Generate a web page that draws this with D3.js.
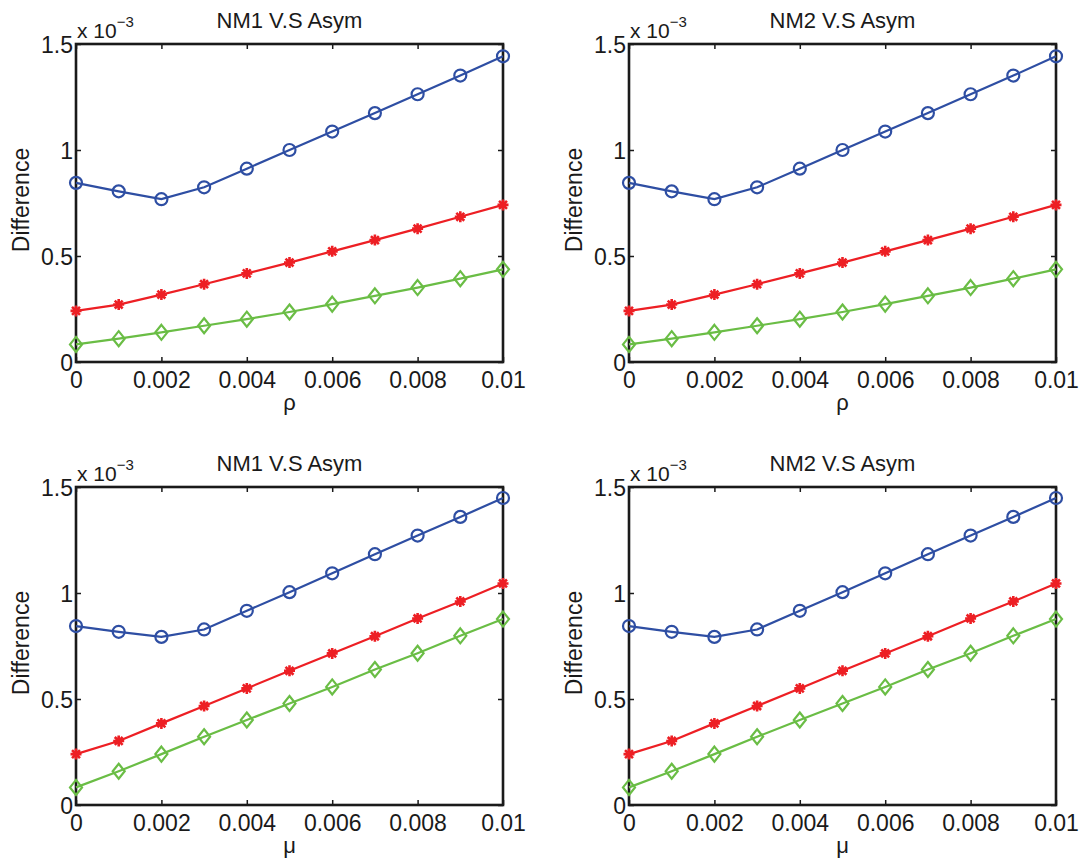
<!DOCTYPE html>
<html>
<head>
<meta charset="utf-8">
<script src="https://cdn.jsdelivr.net/npm/d3@7"></script>
<style>
  body { margin: 0; background: #fff; }
  text { font-family: "Liberation Sans", Arial, Helvetica, sans-serif; fill: #1a1a1a; }
</style>
</head>
<body>
<svg id="chart" width="1080" height="860"></svg>
<script>
// x values (parameter rho / mu)
var xValues = [0, 0.001, 0.002, 0.003, 0.004, 0.005, 0.006, 0.007, 0.008, 0.009, 0.01];
var xTicks = [0, 0.002, 0.004, 0.006, 0.008, 0.01];
var xTickLabels = ["0", "0.002", "0.004", "0.006", "0.008", "0.01"];
var yTicks = [0, 0.5, 1, 1.5];
var yTickLabels = ["0", "0.5", "1", "1.5"];

// values in units of 1e-3
var rhoBlue  = [0.845, 0.805, 0.768, 0.824, 0.912, 1.0, 1.087, 1.174, 1.263, 1.351, 1.442];
var rhoRed   = [0.241, 0.271, 0.318, 0.367, 0.418, 0.469, 0.522, 0.575, 0.629, 0.685, 0.741];
var rhoGreen = [0.083, 0.110, 0.140, 0.171, 0.202, 0.236, 0.273, 0.312, 0.351, 0.393, 0.437];

var muBlue  = [0.844, 0.817, 0.793, 0.828, 0.916, 1.004, 1.093, 1.183, 1.271, 1.359, 1.448];
var muRed   = [0.240, 0.302, 0.385, 0.467, 0.550, 0.633, 0.715, 0.796, 0.880, 0.960, 1.045];
var muGreen = [0.083, 0.159, 0.240, 0.322, 0.401, 0.479, 0.557, 0.639, 0.716, 0.798, 0.877];

var titles = ["NM1 V.S Asym", "NM2 V.S Asym", "NM1 V.S Asym", "NM2 V.S Asym"];
var xLabels = ["\u03C1", "\u03C1", "\u03BC", "\u03BC"];
var yLabel = "Difference";

var blue = "#2e4ea3", red = "#ed1f24", green = "#6abd45";

var panels = [
    { left: 76,  top: 44,  title: titles[0], xl: xLabels[0], series: [rhoBlue, rhoRed, rhoGreen] },
    { left: 629, top: 44,  title: titles[1], xl: xLabels[1], series: [rhoBlue, rhoRed, rhoGreen] },
    { left: 76,  top: 487, title: titles[2], xl: xLabels[2], series: [muBlue, muRed, muGreen] },
    { left: 629, top: 487, title: titles[3], xl: xLabels[3], series: [muBlue, muRed, muGreen] }
];
var w = 427, h = 318;
var colors = [blue, red, green];
var markers = ["circle", "star", "diamond"];

var svg = d3.select("#chart");

panels.forEach(function (p) {
    var g = svg.append("g").attr("transform", "translate(" + p.left + "," + p.top + ")");

    var x = d3.scaleLinear().domain([0, 0.01]).range([0, w]);
    var y = d3.scaleLinear().domain([0, 1.5]).range([h, 0]);

    // Axes (ticks pointing inward, labels outside)
    var xAxis = d3.axisBottom(x).tickValues(xTicks).tickSizeInner(-5).tickSizeOuter(0)
        .tickFormat(function (d, i) { return xTickLabels[i]; });
    var xAxisTop = d3.axisTop(x).tickValues(xTicks).tickSizeInner(-5).tickSizeOuter(0).tickFormat("");
    var yAxis = d3.axisLeft(y).tickValues(yTicks).tickSizeInner(-5).tickSizeOuter(0)
        .tickFormat(function (d, i) { return yTickLabels[i]; });
    var yAxisRight = d3.axisRight(y).tickValues(yTicks).tickSizeInner(-5).tickSizeOuter(0).tickFormat("");

    var gx = g.append("g").attr("transform", "translate(0," + h + ")").call(xAxis);
    g.append("g").call(xAxisTop);
    var gy = g.append("g").call(yAxis);
    g.append("g").attr("transform", "translate(" + w + ",0)").call(yAxisRight);

    g.selectAll(".domain").remove();
    g.selectAll(".tick line").attr("stroke", "#1a1a1a").attr("stroke-width", 1.5);
    g.selectAll(".tick text").style("font-size", "23px").attr("fill", "#1a1a1a");
    gx.selectAll(".tick text").attr("y", 10).attr("dy", "0.71em");
    gy.selectAll(".tick text").attr("x", -3).attr("dy", "0.35em");

    // Box
    g.append("rect").attr("width", w).attr("height", h)
        .attr("fill", "none").attr("stroke", "#1a1a1a").attr("stroke-width", 2.6);

    // Lines and markers
    p.series.forEach(function (vals, si) {
        var pts = vals.map(function (v, i) { return { x: xValues[i], y: v }; });
        var line = d3.line().x(function (d) { return x(d.x); }).y(function (d) { return y(d.y); });
        g.append("path").attr("d", line(pts)).attr("fill", "none")
            .attr("stroke", colors[si]).attr("stroke-width", 2.2);

        var mk = g.append("g");
        pts.forEach(function (d) {
            var cx = x(d.x), cy = y(d.y);
            if (markers[si] === "circle") {
                mk.append("circle").attr("cx", cx).attr("cy", cy).attr("r", 6)
                    .attr("fill", "none").attr("stroke", colors[si]).attr("stroke-width", 2.2);
            } else if (markers[si] === "star") {
                var r = 5.5, q = r * 0.72;
                var dstr = "M" + (cx - r) + "," + cy + "L" + (cx + r) + "," + cy +
                    "M" + cx + "," + (cy - r) + "L" + cx + "," + (cy + r) +
                    "M" + (cx - q) + "," + (cy - q) + "L" + (cx + q) + "," + (cy + q) +
                    "M" + (cx - q) + "," + (cy + q) + "L" + (cx + q) + "," + (cy - q);
                mk.append("path").attr("d", dstr).attr("stroke", colors[si])
                    .attr("stroke-width", 2.6).attr("fill", "none");
            } else {
                var dw = 6, dh = 7.5;
                mk.append("path")
                    .attr("d", "M" + cx + "," + (cy - dh) + "L" + (cx + dw) + "," + cy +
                        "L" + cx + "," + (cy + dh) + "L" + (cx - dw) + "," + cy + "Z")
                    .attr("fill", "none").attr("stroke", colors[si]).attr("stroke-width", 2.2);
            }
        });
    });

    // Title
    g.append("text").attr("x", w / 2).attr("y", -16).attr("text-anchor", "middle")
        .style("font-size", "22px").text(p.title);

    // Exponent label
    var ex = g.append("text").attr("x", 1).attr("y", -6).style("font-size", "21px");
    ex.append("tspan").text("x 10");
    ex.append("tspan").attr("dy", -11).style("font-size", "15px").text("\u22123");

    // Axis labels
    g.append("text").attr("x", w / 2).attr("y", h + 48).attr("text-anchor", "middle")
        .style("font-size", "22px").text(p.xl);
    g.append("text")
        .attr("transform", "translate(" + (-47) + "," + (h / 2 - 3) + ") rotate(-90)")
        .attr("text-anchor", "middle").style("font-size", "23px").text(yLabel);
});
</script>
</body>
</html>
